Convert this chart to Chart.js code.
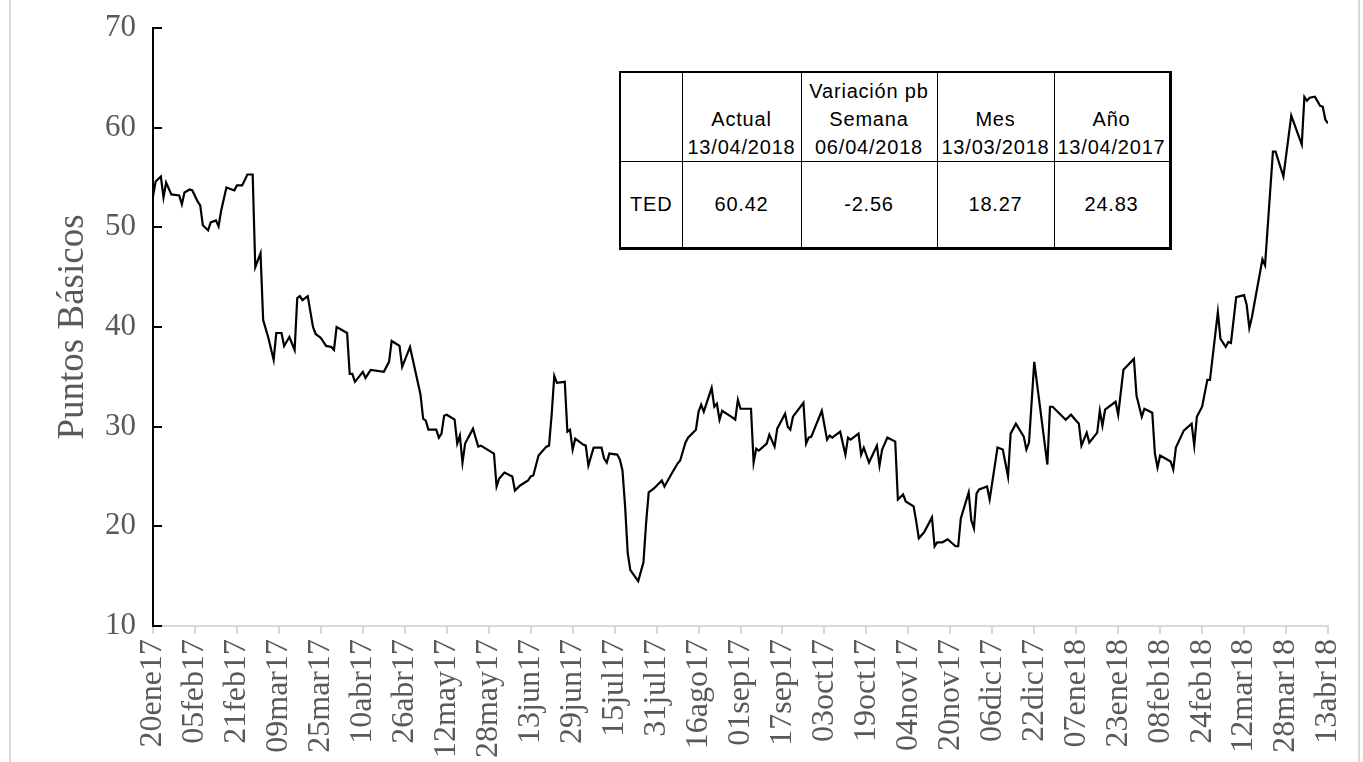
<!DOCTYPE html>
<html lang="es">
<head>
<meta charset="utf-8">
<script src="https://cdn.jsdelivr.net/npm/chart.js@4.4.1/dist/chart.umd.min.js"></script>
<style>
  html, body { margin: 0; padding: 0; background: #fff; }
  #wrap { position: relative; width: 1363px; height: 762px; overflow: hidden; }
  #marco { position: absolute; left: 9px; top: 0; width: 1351px; height: 762px; box-sizing: border-box;
           border-left: 2px solid #d9d9d9; border-right: 2px solid #d9d9d9; }
  canvas { position: absolute; left: 0; top: 0; }
  #tabla { position: absolute; left: 619px; top: 71px; border-collapse: collapse; background: #fff;
           font-family: 'Liberation Sans', Arial, sans-serif; font-size: 20px; letter-spacing: 0.8px;
           color: #000; text-align: center; table-layout: fixed; }
  #tabla td { border: 1.5px solid #000; padding: 0; }
  #tabla tr:first-child td { border-top-width: 2px; height: 88px; vertical-align: bottom; line-height: 28px; }
  #tabla tr:last-child td { border-bottom-width: 3px; height: 85px; vertical-align: middle; }
  #tabla td:first-child { border-left-width: 2px; }
  #tabla td:last-child { border-right-width: 3px; }
</style>
</head>
<body>
<div id="wrap">
  <div id="marco"></div>
  <canvas id="grafico" width="1363" height="762"></canvas>
  <table id="tabla">
    <colgroup><col style="width:62px"><col style="width:119px"><col style="width:136px"><col style="width:117px"><col style="width:116px"></colgroup>
    <tr id="filaCab"></tr>
    <tr id="filaTed"></tr>
  </table>
</div>
<script>
// Etiquetas del eje X (cada 16 días desde 20ene17)
const etiquetas = ['20ene17','05feb17','21feb17','09mar17','25mar17','10abr17','26abr17','12may17','28may17',
  '13jun17','29jun17','15jul17','31jul17','16ago17','01sep17','17sep17','03oct17','19oct17','04nov17',
  '20nov17','06dic17','22dic17','07ene18','23ene18','08feb18','24feb18','12mar18','28mar18','13abr18'];
const pasoDias = 16;

// Serie TED: días desde 20ene17 y puntos básicos
const dias = [0,1,3,4,5,7,10,11,12,14,15,17,18,19,21,22,24,25,26,28,31,32,34,36,38,39,41,42,44,46,47,49,50,52,54,55,56,57,59,61,62,64,66,68,69,70,
  74,75,76,77,80,81,83,88,90,91,94,95,98,102,103,104,105,108,109,110,111,112,115,116,117,118,119,122,124,125,130,131,132,134,137,138,140,143,144,145,147,
  150,151,152,153,154,157,158,159,160,161,164,165,166,168,171,172,173,174,177,178,179,180,181,182,185,187,188,189,191,194,195,198,200,201,203,204,207,
  208,209,210,213,214,215,216,217,221,222,223,224,228,229,230,231,234,235,237,238,241,242,243,244,248,249,250,251,255,257,258,259,262,264,265,266,269,
  270,271,273,276,277,278,279,280,283,284,286,287,290,291,292,294,297,298,299,301,303,306,307,308,311,312,313,314,315,318,319,322,324,326,327,329,332,
  333,334,336,341,342,343,348,350,353,354,356,357,360,361,362,363,367,368,370,374,375,377,378,381,382,383,384,388,389,390,393,396,397,398,400,402,403,
  406,407,409,410,411,413,416,417,418,419,423,424,427,428,431,434,438,439,440,441,443,445,446,447,448];
const ted = [53.1,54.6,55.1,53.0,54.5,53.3,53.2,52.3,53.5,53.8,53.7,52.6,52.2,50.2,49.7,50.5,50.7,50.1,51.7,54.0,53.7,54.2,54.2,55.3,55.3,46.0,47.4,40.7,38.9,36.7,39.4,39.4,38.1,39.0,37.7,42.9,43.1,42.7,43.1,40.0,39.3,38.9,38.1,38.0,37.7,40.0,
  39.4,35.3,35.3,34.5,35.5,34.9,35.7,35.5,36.5,38.6,38.1,36.0,38.0,33.2,30.8,30.6,29.7,29.7,28.9,29.3,31.1,31.2,30.7,28.3,29.1,26.4,28.3,29.8,28.0,28.1,27.3,24.0,24.8,25.4,25.0,23.6,24.1,24.6,25.0,25.1,27.1,
  28.0,28.1,31.2,35.1,34.4,34.5,29.5,29.7,27.7,28.8,28.2,28.1,26.1,27.9,27.9,26.8,26.4,27.3,27.2,26.7,25.6,22.0,17.3,15.6,14.5,16.4,20.3,23.4,23.8,24.6,24.0,25.4,26.3,26.6,28.4,28.9,29.7,
  31.5,32.2,31.5,33.9,32.0,32.3,30.7,31.6,30.9,30.7,32.7,31.8,31.8,26.4,27.8,27.6,28.3,29.2,28.0,29.8,31.3,30.0,29.7,31.0,32.4,28.3,28.9,29.0,31.6,28.7,29.1,28.9,29.5,27.2,28.9,28.7,29.3,
  27.2,27.9,26.4,28.1,26.1,27.7,28.3,28.9,28.5,22.7,23.2,22.5,22.0,20.5,18.8,19.4,20.9,18.0,18.4,18.4,18.7,18.0,18.0,20.8,23.4,20.6,19.8,23.3,23.7,24.0,22.7,27.9,27.7,25.0,29.3,30.3,29.0,
  27.7,28.4,36.5,26.2,32.0,32.0,30.7,31.2,30.3,28.1,29.4,28.4,29.4,31.6,30.1,31.7,32.5,31.2,35.7,36.8,33.1,31.0,31.8,31.4,27.3,25.9,27.1,26.5,25.7,27.9,29.6,30.3,28.1,31.0,32.0,34.7,34.7,
  41.5,38.8,38.0,38.5,38.4,43.0,43.2,42.2,39.9,41.0,46.8,46.2,57.6,57.6,55.1,61.2,58.3,63.1,62.7,63.0,63.1,62.2,62.1,60.8,60.42];

// Eje Y
const yTicks = [10, 20, 30, 40, 50, 60, 70];

// Tabla resumen
const cabLinea1 = ['', '', 'Variación pb', '', ''];
const cabLinea2 = ['', 'Actual', 'Semana', 'Mes', 'Año'];
const cabLinea3 = ['', '13/04/2018', '06/04/2018', '13/03/2018', '13/04/2017'];
const filaValores = ['TED', '60.42', '-2.56', '18.27', '24.83'];

const filaCab = document.getElementById('filaCab');
cabLinea2.forEach((t, i) => {
  const td = document.createElement('td');
  td.innerHTML = `<div>${cabLinea1[i] || '&nbsp;'}</div><div>${t || '&nbsp;'}</div><div>${cabLinea3[i] || '&nbsp;'}</div>`;
  filaCab.appendChild(td);
});
const filaTed = document.getElementById('filaTed');
filaValores.forEach(v => {
  const td = document.createElement('td');
  td.textContent = v;
  filaTed.appendChild(td);
});

const serif = "'Liberation Serif', 'Times New Roman', serif";

// marcas cortas del eje Y hacia dentro del gráfico
const marcasInternas = {
  id: 'marcasInternas',
  afterDraw(chart) {
    const { ctx, chartArea, scales: { y } } = chart;
    ctx.save();
    ctx.strokeStyle = '#000';
    ctx.lineWidth = 2;
    y.ticks.forEach(t => {
      const py = Math.round(y.getPixelForValue(t.value));
      ctx.beginPath();
      ctx.moveTo(chartArea.left, py);
      ctx.lineTo(chartArea.left + 9, py);
      ctx.stroke();
    });
    ctx.restore();
  }
};

new Chart(document.getElementById('grafico'), {
  type: 'line',
  data: {
    datasets: [{
      label: 'TED',
      data: dias.map((d, i) => ({ x: d, y: ted[i] })),
      borderColor: '#000',
      borderWidth: 2.2,
      pointRadius: 0,
      tension: 0,
      fill: false
    }]
  },
  options: {
    responsive: false,
    animation: false,
    devicePixelRatio: 1,
    layout: { padding: { left: 10, top: 28, right: 35, bottom: 0 } },
    plugins: { legend: { display: false }, tooltip: { enabled: false } },
    scales: {
      x: {
        type: 'linear',
        min: 0,
        max: (etiquetas.length - 1) * pasoDias,
        afterBuildTicks: s => { s.ticks = etiquetas.map((_, i) => ({ value: i * pasoDias })); },
        afterFit: s => { s.height = 136; s.paddingLeft = 0; s.paddingRight = 0; },
        grid: { drawOnChartArea: false, drawTicks: true, tickLength: 8, color: '#d9d9d9', lineWidth: 2 },
        border: { color: '#d9d9d9', width: 2 },
        ticks: {
          autoSkip: false, minRotation: 90, maxRotation: 90, padding: 5,
          color: '#595959', font: { family: serif, size: 32 },
          callback: (v, i) => etiquetas[i]
        }
      },
      y: {
        min: 10,
        max: 70,
        afterBuildTicks: s => { s.ticks = yTicks.map(v => ({ value: v })); },
        afterFit: s => { s.width = 143; s.paddingTop = 0; s.paddingBottom = 0; },
        grid: { display: false, drawTicks: false },
        border: { color: '#000', width: 2 },
        ticks: { padding: 17, color: '#595959', font: { family: serif, size: 31 } },
        title: {
          display: true, text: 'Puntos Básicos', color: '#595959',
          font: { family: serif, size: 37 }, padding: { top: 41, bottom: 0 }
        }
      }
    }
  },
  plugins: [marcasInternas]
});
</script>
</body>
</html>
